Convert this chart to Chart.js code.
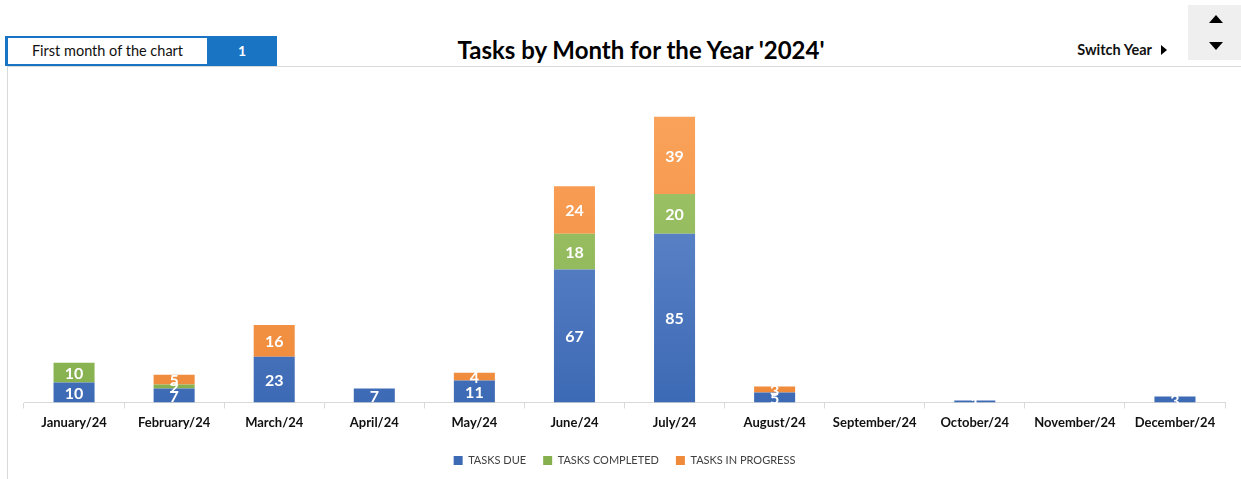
<!DOCTYPE html>
<html><head><meta charset="utf-8">
<script src="https://cdn.jsdelivr.net/npm/chart.js@4/dist/chart.umd.min.js"></script>
<style>
html,body{margin:0;padding:0;background:#fff;width:1241px;height:479px;overflow:hidden;font-family:Lato,"Open Sans",sans-serif;}
#wrap{position:absolute;left:0;top:0;width:1241px;height:479px;}
#c{position:absolute;left:0;top:0;}
.abs{position:absolute;}
</style></head><body>
<div id="wrap">
  <div class="abs" style="left:7px;top:66px;width:1234px;height:1px;background:#d9d9d9"></div>
  <div class="abs" style="left:7px;top:66px;width:1px;height:413px;background:#d9d9d9"></div>
  <div class="abs" style="left:5px;top:36px;width:199px;height:26px;border:2px solid #1a74c4;border-left-width:3px;border-right:none;background:#fff;font-size:14.5px;line-height:26px;text-align:center;color:#111">First month of the chart</div>
  <div class="abs" style="left:207px;top:36px;width:70px;height:30px;background:#1a74c4;color:#fff;font-weight:bold;font-size:14px;line-height:30px;text-align:center">1</div>
  <div id="title" class="abs" style="left:291px;top:35px;width:700px;text-align:center;font-weight:bold;font-size:24px;color:#000">Tasks by Month for the Year '2024'</div>
  <div class="abs" style="left:1036px;top:41px;width:116px;text-align:right;font-weight:bold;font-size:14.5px;color:#111">Switch Year</div>
  <div class="abs" style="left:1161px;top:45px;width:0;height:0;border-top:5px solid transparent;border-bottom:5px solid transparent;border-left:6px solid #000"></div>
  <div class="abs" style="left:1188px;top:5px;width:53px;height:55px;background:#efefef"></div>
  <div class="abs" style="left:1209px;top:15px;width:0;height:0;border-left:7px solid transparent;border-right:7px solid transparent;border-bottom:8px solid #000"></div>
  <div class="abs" style="left:1209px;top:42px;width:0;height:0;border-left:7px solid transparent;border-right:7px solid transparent;border-top:8px solid #000"></div>
  <canvas id="c" width="1241" height="479"></canvas>
</div>
<script>
const categories = ["January/24","February/24","March/24","April/24","May/24","June/24","July/24","August/24","September/24","October/24","November/24","December/24"];
const tasksDue = [10,7,23,7,11,67,85,5,0,1,0,3];
const tasksCompleted = [10,2,0,0,0,18,20,0,0,0,0,0];
const tasksInProgress = [0,5,16,0,4,24,39,3,0,0,0,0];
const seriesNames = ["TASKS DUE","TASKS COMPLETED","TASKS IN PROGRESS"];

function grad(top, bottom){
  return function(ctx){
    const ch = ctx.chart, a = ch.chartArea;
    if(!a) return bottom;
    const g = ch.ctx.createLinearGradient(0, a.top, 0, a.bottom);
    g.addColorStop(0, top); g.addColorStop(1, bottom);
    return g;
  };
}

const labelPlugin = {
  id:'segLabels',
  afterDatasetsDraw(chart){
    const ctx = chart.ctx;
    ctx.save();
    ctx.fillStyle = '#fff';
    ctx.font = 'bold 16px Lato, "Open Sans", sans-serif';
    ctx.textAlign = 'center';
    ctx.textBaseline = 'middle';
    chart.data.datasets.forEach((ds, i) => {
      const meta = chart.getDatasetMeta(i);
      meta.data.forEach((bar, j) => {
        const v = ds.data[j];
        if (!v) return;
        const p = bar.getProps(['x','y','base'], true);
        ctx.fillText(String(v), p.x, (p.y + p.base)/2 + 1);
      });
    });
    ctx.restore();
  }
};

new Chart(document.getElementById('c'), {
  type:'bar',
  data:{
    labels: categories,
    datasets:[
      {label:seriesNames[0], data:tasksDue, backgroundColor:grad('#6f93d3','#3d6ab5')},
      {label:seriesNames[1], data:tasksCompleted, backgroundColor:grad('#a5c870','#86b04e')},
      {label:seriesNames[2], data:tasksInProgress, backgroundColor:grad('#fba55e','#ef8a3a')}
    ]
  },
  options:{
    responsive:false,
    animation:false,
    devicePixelRatio:1,
    layout:{padding:{left:24,right:16,top:85,bottom:3}},
    datasets:{bar:{categoryPercentage:1, barPercentage:0.41, borderWidth:0}},
    scales:{
      x:{stacked:true,
         grid:{offset:true, drawOnChartArea:false, drawTicks:true, tickLength:6, color:'#d9d9d9'},
         border:{color:'#d9d9d9'},
         ticks:{color:'#111', font:{family:'Lato, "Open Sans", sans-serif', weight:'bold', size:13}, padding:7, maxRotation:0, autoSkip:false}
      },
      y:{stacked:true, display:false, min:0, max:160}
    },
    plugins:{
      legend:{position:'bottom', labels:{boxWidth:9, boxHeight:9, padding:17, color:'#404040', font:{family:'Lato, "Open Sans", sans-serif', size:11}}},
      tooltip:{enabled:false}
    }
  },
  plugins:[labelPlugin]
});
</script>
</body></html>
